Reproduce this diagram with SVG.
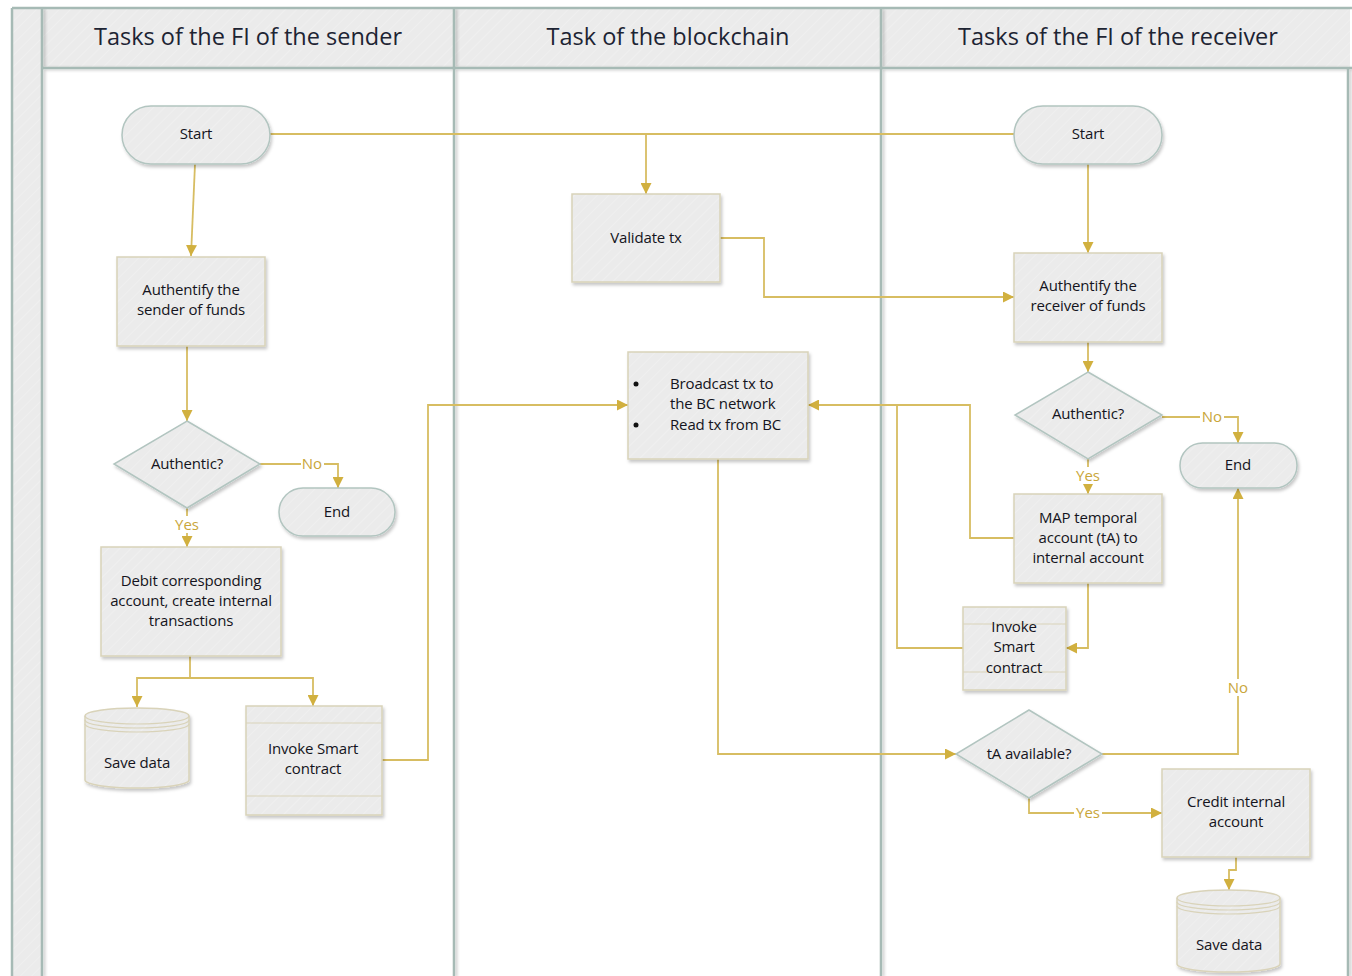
<svg xmlns="http://www.w3.org/2000/svg" width="1352" height="976" viewBox="0 0 1352 976">
  <defs>
    <pattern id="hatch" width="8" height="8" patternUnits="userSpaceOnUse" patternTransform="rotate(45)">
      <rect width="8" height="8" fill="#ebebeb"/>
      <line x1="0" y1="0" x2="0" y2="8" stroke="#f1f1f1" stroke-width="1.5"/>
    </pattern>
    <filter id="shadow" x="-10%" y="-10%" width="130%" height="130%">
      <feDropShadow dx="1.5" dy="2.5" stdDeviation="1.5" flood-color="#000" flood-opacity="0.22"/>
    </filter>
    <filter id="laneShadow" filterUnits="userSpaceOnUse" x="0" y="0" width="1352" height="976">
      <feDropShadow dx="2" dy="1" stdDeviation="1.5" flood-color="#000" flood-opacity="0.22"/>
    </filter>
    <marker id="arrow" viewBox="0 0 10 10" refX="10" refY="5" markerWidth="11" markerHeight="11" markerUnits="userSpaceOnUse" orient="auto">
      <path d="M0,0 L10,5 L0,10 Z" fill="#d1b03f"/>
    </marker>
  </defs>
  <style>
    .lane { fill: none; stroke: #a6bab5; stroke-width: 2.5; }
    .head { font-family: "Open Sans", "Noto Sans", sans-serif; font-size: 23.5px; fill: #1d2433; text-anchor: middle; }
    .proc { fill: url(#hatch); stroke: #d9d3b9; stroke-width: 1.5; filter: url(#shadow); }
    .term { fill: url(#hatch); stroke: #b2c5c0; stroke-width: 1.5; filter: url(#shadow); }
    .dec { fill: url(#hatch); stroke: #b2c5c0; stroke-width: 1.5; filter: url(#shadow); }
    .inner { fill: none; stroke: #d9d3b9; stroke-width: 1.2; }
    .t { font-family: "Open Sans", "Noto Sans", sans-serif; font-size: 15px; fill: #141420; text-anchor: middle; letter-spacing: -0.15px; }
    .tl { font-family: "Open Sans", "Noto Sans", sans-serif; font-size: 15px; fill: #141420; letter-spacing: -0.15px; }
    .conn { fill: none; stroke: #d7bd62; stroke-width: 1.8; }
    .arr { marker-end: url(#arrow); }
    .lab { font-family: "Open Sans", "Noto Sans", sans-serif; font-size: 15px; fill: #c9a63a; text-anchor: middle; }
    .labbg { fill: #ffffff; }
  </style>

  <!-- swimlane frame -->
  <g id="lanes">
    <rect x="12" y="8" width="30" height="968" fill="url(#hatch)"/>
    <rect x="42" y="8" width="1308" height="60" fill="url(#hatch)"/>
    <rect x="42" y="68" width="1306" height="908" fill="#ffffff"/>
    <g filter="url(#laneShadow)">
      <path class="lane" d="M42,68 H1352"/>
      <path class="lane" d="M42,8 V976"/>
      <path class="lane" d="M454,8 V976"/>
      <path class="lane" d="M881,8 V976"/>
      <path class="lane" d="M1348,68 V976"/>
    </g>
    <path class="lane" d="M12,8 H1352"/>
    <path class="lane" d="M12,8 V976"/>
    <text class="head" x="248" y="45">Tasks of the FI of the sender</text>
    <text class="head" x="668" y="45">Task of the blockchain</text>
    <text class="head" x="1118" y="45">Tasks of the FI of the receiver</text>
  </g>

  <!-- connectors -->
  <g id="connectors">
    <path class="conn" d="M270,134 H1014"/>
    <path class="conn arr" d="M646,134 V194"/>
    <path class="conn arr" d="M195,164 L191,256"/>
    <path class="conn arr" d="M187,346 V421"/>
    <path class="conn arr" d="M260,464 H338 V488"/>
    <path class="conn arr" d="M187,508 V547"/>
    <path class="conn" d="M190,656 V678"/>
    <path class="conn arr" d="M190,678 H137 V707"/>
    <path class="conn arr" d="M190,678 H313 V706"/>
    <path class="conn arr" d="M382,760 H428 V405 H628"/>
    <path class="conn arr" d="M720,238 H764 V297 H1014"/>
    <path class="conn arr" d="M1014,538 H970 V405 H808"/>
    <path class="conn" d="M963,648 H897 V405"/>
    <path class="conn arr" d="M718,459 V754 H956"/>
    <path class="conn arr" d="M1088,164 V253"/>
    <path class="conn arr" d="M1088,342 V372"/>
    <path class="conn arr" d="M1162,417 H1238 V443"/>
    <path class="conn arr" d="M1088,459 V494"/>
    <path class="conn arr" d="M1088,583 V648 H1066"/>
    <path class="conn arr" d="M1102,754 H1238 V488"/>
    <path class="conn arr" d="M1029,798 V813 H1162"/>
    <path class="conn arr" d="M1236,857 V870 H1229 V890"/>
    <!-- branch labels -->
    <rect class="labbg" x="301" y="455" width="23" height="17"/>
    <text class="lab" x="312" y="469">No</text>
    <rect class="labbg" x="173" y="516" width="28" height="17"/>
    <text class="lab" x="187" y="530">Yes</text>
    <rect class="labbg" x="1200" y="408" width="24" height="17"/>
    <text class="lab" x="1212" y="422">No</text>
    <rect class="labbg" x="1074" y="467" width="28" height="17"/>
    <text class="lab" x="1088" y="481">Yes</text>
    <rect class="labbg" x="1226" y="679" width="24" height="17"/>
    <text class="lab" x="1238" y="693">No</text>
    <rect class="labbg" x="1074" y="804" width="28" height="17"/>
    <text class="lab" x="1088" y="818">Yes</text>
  </g>

  <!-- sender lane -->
  <g id="sender-start">
    <rect class="term" x="122" y="106" width="148" height="58" rx="29"/>
    <text class="t" x="196" y="139">Start</text>
  </g>
  <g id="sender-auth">
    <rect class="proc" x="117" y="257" width="148" height="89"/>
    <text class="t" x="191" y="295">Authentify the</text>
    <text class="t" x="191" y="315">sender of funds</text>
  </g>
  <g id="sender-authentic">
    <polygon class="dec" points="187,421 260,464 187,508 114,464"/>
    <text class="t" x="187" y="469">Authentic?</text>
  </g>
  <g id="sender-end">
    <rect class="term" x="279" y="488" width="116" height="48" rx="24"/>
    <text class="t" x="337" y="517">End</text>
  </g>
  <g id="sender-debit">
    <rect class="proc" x="101" y="547" width="180" height="109"/>
    <text class="t" x="191" y="586">Debit corresponding</text>
    <text class="t" x="191" y="606">account, create internal</text>
    <text class="t" x="191" y="626">transactions</text>
  </g>
  <g id="sender-save">
    <path class="proc" d="M85,716 A52,8 0 0 1 189,716 V780 A52,8 0 0 1 85,780 Z"/>
    <path class="inner" d="M85,716 A52,8 0 0 0 189,716 M85,720 A52,8 0 0 0 189,720 M85,724 A52,8 0 0 0 189,724"/>
    <text class="t" x="137" y="768">Save data</text>
  </g>
  <g id="sender-invoke">
    <rect class="proc" x="246" y="706" width="136" height="109"/>
    <line class="inner" x1="246" y1="723" x2="382" y2="723"/>
    <line class="inner" x1="246" y1="796" x2="382" y2="796"/>
    <text class="t" x="313" y="754">Invoke Smart</text>
    <text class="t" x="313" y="774">contract</text>
  </g>

  <!-- blockchain lane -->
  <g id="bc-validate">
    <rect class="proc" x="572" y="194" width="148" height="88"/>
    <text class="t" x="646" y="243">Validate tx</text>
  </g>
  <g id="bc-broadcast">
    <rect class="proc" x="628" y="352" width="180" height="107"/>
    <circle cx="636" cy="384" r="2.5" fill="#111"/>
    <circle cx="636" cy="425" r="2.5" fill="#111"/>
    <text class="tl" x="670" y="389">Broadcast tx to</text>
    <text class="tl" x="670" y="409">the BC network</text>
    <text class="tl" x="670" y="430">Read tx from BC</text>
  </g>

  <!-- receiver lane -->
  <g id="recv-start">
    <rect class="term" x="1014" y="106" width="148" height="58" rx="29"/>
    <text class="t" x="1088" y="139">Start</text>
  </g>
  <g id="recv-auth">
    <rect class="proc" x="1014" y="253" width="148" height="89"/>
    <text class="t" x="1088" y="291">Authentify the</text>
    <text class="t" x="1088" y="311">receiver of funds</text>
  </g>
  <g id="recv-authentic">
    <polygon class="dec" points="1088,372 1162,415 1088,459 1015,415"/>
    <text class="t" x="1088" y="419">Authentic?</text>
  </g>
  <g id="recv-end">
    <rect class="term" x="1180" y="443" width="117" height="45" rx="22.5"/>
    <text class="t" x="1238" y="470">End</text>
  </g>
  <g id="recv-map">
    <rect class="proc" x="1014" y="494" width="148" height="89"/>
    <text class="t" x="1088" y="523">MAP temporal</text>
    <text class="t" x="1088" y="543">account (tA) to</text>
    <text class="t" x="1088" y="563">internal account</text>
  </g>
  <g id="recv-invoke">
    <rect class="proc" x="963" y="607" width="103" height="83"/>
    <line class="inner" x1="963" y1="624" x2="1066" y2="624"/>
    <line class="inner" x1="963" y1="672" x2="1066" y2="672"/>
    <text class="t" x="1014" y="632">Invoke</text>
    <text class="t" x="1014" y="652">Smart</text>
    <text class="t" x="1014" y="673">contract</text>
  </g>
  <g id="recv-available">
    <polygon class="dec" points="1029,710 1102,754 1029,798 956,754"/>
    <text class="t" x="1029" y="759">tA available?</text>
  </g>
  <g id="recv-credit">
    <rect class="proc" x="1162" y="769" width="148" height="88"/>
    <text class="t" x="1236" y="807">Credit internal</text>
    <text class="t" x="1236" y="827">account</text>
  </g>
  <g id="recv-save">
    <path class="proc" d="M1177,898 A51.5,8 0 0 1 1280,898 V964 A51.5,8 0 0 1 1177,964 Z"/>
    <path class="inner" d="M1177,898 A51.5,8 0 0 0 1280,898 M1177,902 A51.5,8 0 0 0 1280,902 M1177,906 A51.5,8 0 0 0 1280,906"/>
    <text class="t" x="1229" y="950">Save data</text>
  </g>
</svg>
